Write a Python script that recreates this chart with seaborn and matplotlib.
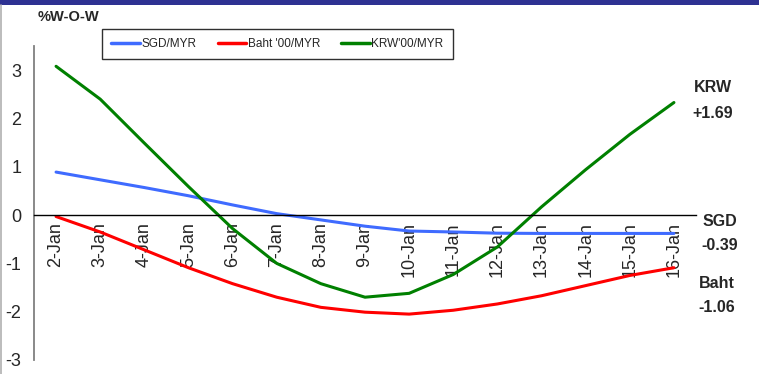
import numpy as np
import pandas as pd
import matplotlib
matplotlib.use("Agg")
import matplotlib.pyplot as plt
import seaborn as sns
from matplotlib.patches import Rectangle
from matplotlib.lines import Line2D

dates = ["2-Jan", "3-Jan", "4-Jan", "5-Jan", "6-Jan", "7-Jan", "8-Jan", "9-Jan",
         "10-Jan", "11-Jan", "12-Jan", "13-Jan", "14-Jan", "15-Jan", "16-Jan"]
sgd = [0.89, 0.73, 0.57, 0.40, 0.21, 0.03, -0.10, -0.23, -0.33, -0.35, -0.375, -0.38, -0.38, -0.38, -0.38]
baht = [-0.03, -0.35, -0.72, -1.09, -1.42, -1.70, -1.91, -2.01, -2.05, -1.97, -1.84, -1.67, -1.46, -1.25, -1.09]
krw = [3.08, 2.40, 1.49, 0.59, -0.28, -1.00, -1.42, -1.70, -1.62, -1.23, -0.66, 0.17, 0.94, 1.67, 2.33]
series_names = ["SGD/MYR", "Baht '00/MYR", "KRW'00/MYR"]
series_colors = ["#3F6BFF", "#FF0000", "#008000"]
yticks = [-3, -2, -1, 0, 1, 2, 3]
end_labels = [("KRW", "+1.69"), ("SGD", "-0.39"), ("Baht", "-1.06")]

sns.set_style("white")
plt.rcParams['font.family'] = ['Liberation Sans', 'DejaVu Sans']

df = pd.DataFrame({
    "date": dates * 3,
    "value": sgd + baht + krw,
    "series": [series_names[0]] * len(dates) + [series_names[1]] * len(dates) + [series_names[2]] * len(dates),
})

W, H = 759, 374
fig = plt.figure(figsize=(W / 100, H / 100), dpi=100)
ax = fig.add_axes([34 / W, 1 - 360 / H, (696 - 34) / W, (360 - 46) / H])

sns.lineplot(data=df, x="date", y="value", hue="series", palette=series_colors,
             hue_order=series_names, sort=False, linewidth=2.2, ax=ax, legend=False)

ax.set_xlim(-0.5, len(dates) - 0.5)
ax.set_ylim(-3, 3.5)
ax.set_xlabel("")
ax.set_ylabel("")
ax.set_yticks(yticks)
ax.set_yticklabels([str(v) for v in yticks])

for s in ["top", "right"]:
    ax.spines[s].set_visible(False)
ax.spines["left"].set_color("#808080")
ax.spines["left"].set_linewidth(1.3)
ax.spines["left"].set_bounds(-3, 3.5)
ax.spines["bottom"].set_position(("data", 0))
ax.spines["bottom"].set_color("black")
ax.spines["bottom"].set_linewidth(1.0)

ax.set_xticks(range(len(dates)))
ax.set_xticklabels(dates, rotation=90, fontsize=13)
ax.set_xticks(np.arange(-0.5, len(dates), 1), minor=True)
ax.tick_params(axis="x", which="major", length=0, pad=5)
ax.tick_params(axis="x", which="minor", length=4, width=1, color="black", direction="out")
ax.tick_params(axis="y", which="major", length=4, width=1, color="#808080", direction="out",
               labelsize=13, pad=5)
for lab in ax.get_xticklabels():
    lab.set_va("top")
    lab.set_ha("center")

handles = [Line2D([0], [0], color=c, lw=2.5) for c in series_colors]
leg = fig.legend(handles, series_names, loc="upper left",
                 bbox_to_anchor=(102 / W, 1 - 29 / H), ncol=3, frameon=True,
                 fancybox=False, edgecolor="#303030", framealpha=1,
                 prop={"size": 8.5},
                 handlelength=2.45, handletextpad=0.1, columnspacing=1.8,
                 borderpad=0.78, borderaxespad=0)
leg.get_frame().set_linewidth(1.0)

fig.text(38 / W, 1 - 17 / H, "%W-O-W", fontsize=10.5, fontweight="bold", va="center", ha="left")

pos = [(713, 88, 113), (720, 221, 246), (717, 284, 308)]
for (name, val), (xc, y1, y2) in zip(end_labels, pos):
    fig.text(xc / W, 1 - y1 / H, name, fontsize=11.5, fontweight="bold", ha="center", va="center")
    fig.text(xc / W, 1 - y2 / H, val, fontsize=11.5, fontweight="bold", ha="center", va="center")

fig.add_artist(Rectangle((0, 1 - 5 / H), 1, 5 / H, transform=fig.transFigure,
                         facecolor="#2E3192", edgecolor="none"))
fig.add_artist(Line2D([1 / W, 1 / W], [0, 1 - 5 / H], transform=fig.transFigure,
                      color="#B0B0B0", lw=1.2))

fig.savefig("out.png", dpi=100)
